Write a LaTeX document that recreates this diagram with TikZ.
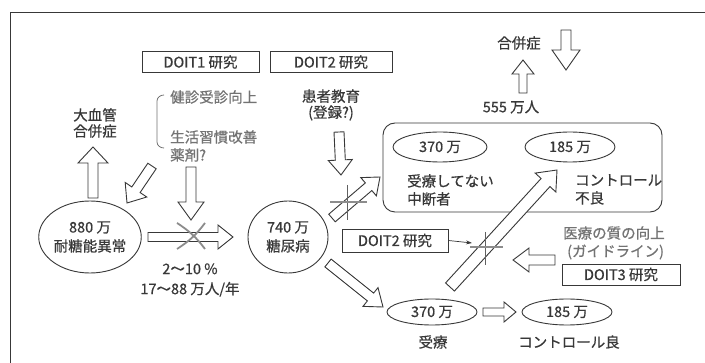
\documentclass[tikz,border=0pt]{standalone}
\usepackage{fontspec}
\setmainfont{Noto Sans CJK JP}[FakeBold=0.6]
\usetikzlibrary{calc,arrows.meta,shapes.geometric}
\definecolor{ink}{gray}{0.22}
\definecolor{soft}{gray}{0.45}
\definecolor{xg}{gray}{0.55}
% hollow block arrow: start, tip, shaft half width, head half width, head length
\newcommand\blkarr[5]{%
  \coordinate (bkB) at ($(#2)!#5!(#1)$);
  \draw[blk] ($(#1)!#3!90:(#2)$) -- ($(bkB)!#3!90:(#2)$) -- ($(bkB)!#4!90:(#2)$)
    -- (#2) -- ($(bkB)!#4!-90:(#2)$) -- ($(bkB)!#3!-90:(#2)$) -- ($(#1)!#3!-90:(#2)$) -- cycle;}
\begin{document}
\begin{tikzpicture}[x=1pt,y=-1pt,
  txt/.style={inner sep=0, text=ink, font=\fontsize{14.5}{16}\selectfont},
  softtxt/.style={txt, text=soft},
  boxd/.style={txt, draw=ink, line width=0.9pt, minimum height=21, minimum width=117},
  ell/.style={txt, draw=ink, ellipse, line width=0.9pt, inner sep=0},
  blk/.style={draw=ink, fill=white, line width=0.9pt, line join=miter},
  xmk/.style={draw=xg, line width=1.8pt},
  xv/.style={draw=ink!80, line width=1pt}]
\useasboundingbox (0,0) rectangle (705,363);
\fill[white] (0,0) rectangle (705,363);
% frame (open to right and bottom)
\draw[ink, line width=0.9pt] (10,363) -- (10,12) -- (705,12);

% boxes
\node[boxd] (dx1) at (200.5,62) {DOIT1 研究};
\node[boxd, minimum width=122] (dx2) at (331,62) {DOIT2 研究};
\node[boxd, minimum width=106, minimum height=23] (dx2b) at (395,240.5) {DOIT2 研究};
\node[boxd, minimum width=118] (dx3) at (621,274.5) {DOIT3 研究};

% texts
\node[softtxt, anchor=west] (kenshin) at (170,97) {健診受診向上};
\node[softtxt, anchor=west] (seikatsu) at (170,137) {生活習慣改善};
\node[softtxt, anchor=west] (yakuzai) at (170,155) {薬剤?};
\draw[soft, line width=0.8pt] (164,95) to[out=180,in=90] (157,101) -- (157,142) to[out=-90,in=180] (164,148);
\node[txt, align=center] (daikekkan) at (95,123) {大血管\\合併症};
\node[txt, align=center] (kanja) at (331,105) {患者教育\\(登録?)};
\node[txt] (gappei) at (519,43) {合併症};
\node[txt] (n555) at (511,107) {555 万人};
\node[txt, align=center, font=\fontsize{14.5}{20}\selectfont] (rate) at (190,280) {2〜10 \%\\17〜88 万人/年};

% ellipses
\node[ell, minimum width=100, minimum height=72, align=center, font=\fontsize{14.5}{19}\selectfont] (e880) at (90,237) {880 万\\耐糖能異常};
\node[ell, minimum width=80, minimum height=72, align=center, font=\fontsize{14.5}{19}\selectfont] (e740) at (288,237) {740 万\\糖尿病};

% group box
\node[draw=ink, line width=0.9pt, rounded corners=12, minimum width=279, minimum height=89, inner sep=0] (grp) at (522.5,167.5) {};
\node[ell, minimum width=94, minimum height=30] (e370a) at (440,147) {370 万};
\node[ell, minimum width=90, minimum height=30] (e185a) at (570,147) {185 万};
\node[txt, anchor=north west, align=left, font=\fontsize{14.5}{18}\selectfont] (mujuryo) at (407,174) {受療してない\\中断者};
\node[txt, anchor=north west, align=left, font=\fontsize{14.5}{18}\selectfont] (furyo) at (575,174) {コントロール\\不良};

\node[ell, minimum width=90, minimum height=26] (e370b) at (432,312) {370 万};
\node[ell, minimum width=90, minimum height=26] (e185b) at (567,312) {185 万};
\node[txt] (juryo) at (433,342) {受療};
\node[txt] (ryo) at (569,342) {コントロール良};

\node[softtxt, anchor=west] (iryo) at (563,233) {医療の質の向上};
\node[softtxt, anchor=west] (guide) at (567,252) {(ガイドライン)};

% arrow end points
\coordinate (a1s) at (93,198);   \coordinate (a1e) at (93,147);
\coordinate (a2s) at (152,166);  \coordinate (a2e) at (127,203);
\coordinate (a3s) at (191,167);  \coordinate (a3e) at (191,220);
\coordinate (a4s) at (148,237);  \coordinate (a4e) at (233,237);
\coordinate (a5s) at (339,132);  \coordinate (a5e) at (341,175);
\coordinate (a6s) at (332,218);  \coordinate (a6e) at (380,177);
\coordinate (a7s) at (328,263);  \coordinate (a7e) at (383,307);
\coordinate (a8s) at (450,287);  \coordinate (a8e) at (557,170);
\coordinate (a9s) at (555,260);  \coordinate (a9e) at (513,260);
\coordinate (a10s) at (483,312); \coordinate (a10e) at (516,312);
\coordinate (a11s) at (523,93);  \coordinate (a11e) at (523,60);
\coordinate (a12s) at (566,30);  \coordinate (a12e) at (566,70);

\blkarr{a1s}{a1e}{5pt}{15pt}{16pt}
\blkarr{a2s}{a2e}{5pt}{13pt}{16pt}
\blkarr{a3s}{a3e}{5pt}{13pt}{18pt}
\blkarr{a4s}{a4e}{4.5pt}{12pt}{15pt}
\blkarr{a5s}{a5e}{5pt}{12pt}{15pt}
\blkarr{a6s}{a6e}{5pt}{12pt}{15pt}
\blkarr{a7s}{a7e}{5pt}{12pt}{16pt}
\blkarr{a8s}{a8e}{6pt}{14pt}{17pt}
\blkarr{a9s}{a9e}{5pt}{12pt}{16pt}
\blkarr{a10s}{a10e}{4pt}{10pt}{12pt}
\blkarr{a11s}{a11e}{4pt}{11pt}{14pt}
\blkarr{a12s}{a12e}{5pt}{14pt}{20pt}

% crosses
\draw[xmk] (177,223) to[bend left=10] (205,249);
\draw[xmk] (177,249) to[bend right=10] (205,223);
\draw[xv] (347,185) -- (347,220);
\draw[xmk] (330,202) -- (367,202);
\draw[xv] (485,232) -- (485,265);
\draw[xmk] (470,247) -- (503,247);
\coordinate (c3) at (472,243);
\draw[ink, line width=0.7pt, -{Stealth[length=6pt,width=4pt]}] (dx2b.east) -- (c3);
\end{tikzpicture}
\end{document}
